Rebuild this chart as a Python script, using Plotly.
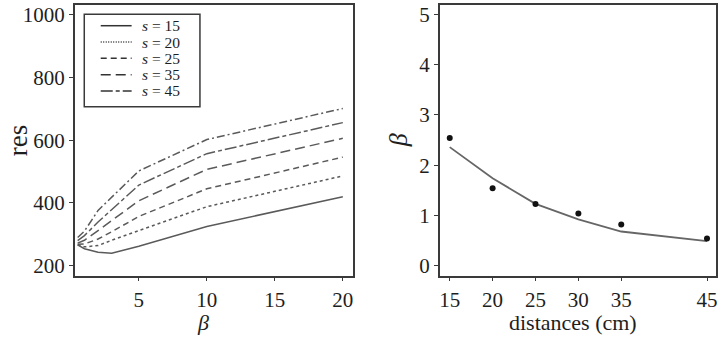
import plotly.graph_objects as go

# Left panel data
beta = [0.5, 1, 2, 3, 5, 10, 20]
res_s15 = [266, 254, 243, 240, 262, 325, 420]
res_s20 = [266, 260, 264, 281, 312, 388, 486]
res_s25 = [268, 269, 285, 308, 357, 445, 546]
res_s35 = [272, 281, 312, 343, 407, 507, 606]
res_s45 = [280, 296, 339, 378, 457, 557, 656]
res_extra = [290, 310, 376, 418, 502, 602, 701]

# Right panel data
distances = [15, 20, 25, 30, 35, 45]
beta_measured = [2.54, 1.54, 1.23, 1.04, 0.82, 0.54]
beta_fit = [2.36, 1.74, 1.23, 0.92, 0.68, 0.49]

x_ticks_left = [5, 10, 15, 20]
y_ticks_left = [200, 400, 600, 800, 1000]
x_ticks_right = [15, 20, 25, 30, 35, 45]
y_ticks_right = [0, 1, 2, 3, 4, 5]

legend_labels = ["<i>s</i> = 15", "<i>s</i> = 20", "<i>s</i> = 25", "<i>s</i> = 35", "<i>s</i> = 45"]

W, H = 720, 337
FONT = "Liberation Serif, Times New Roman, serif"
LC = "#5a5a5a"
AX = "#3a3a3a"
TXT = "#1e1e1e"

dashes = ["solid", "1px,1.5px", "6px,4px", "10px,5px", "12px,3px,4px,3px"]
extra_dash = "8px,3px,2px,3px"

fig = go.Figure()
for ys, dash in zip([res_s15, res_s20, res_s25, res_s35, res_s45], dashes):
    d = "3px,3px" if dash == "1px,1.5px" else dash
    fig.add_trace(go.Scatter(x=beta, y=ys, mode="lines", showlegend=False,
                             line=dict(color=LC, width=1.5, dash=d),
                             xaxis="x", yaxis="y"))
fig.add_trace(go.Scatter(x=beta, y=res_extra, mode="lines", showlegend=False,
                         line=dict(color=LC, width=1.5, dash=extra_dash),
                         xaxis="x", yaxis="y"))

fig.add_trace(go.Scatter(x=distances, y=beta_fit, mode="lines", showlegend=False,
                         line=dict(color="#666666", width=1.8),
                         xaxis="x2", yaxis="y2"))
fig.add_trace(go.Scatter(x=distances, y=beta_measured, mode="markers", showlegend=False,
                         marker=dict(color="#111111", size=6),
                         xaxis="x2", yaxis="y2"))

axcommon = dict(showgrid=False, zeroline=False, showline=True, mirror=True,
                linecolor=AX, linewidth=1.5, ticks="outside", ticklen=4,
                tickcolor=AX, tickwidth=1.2,
                tickfont=dict(family=FONT, size=21, color=TXT))

def px(x):
    return x / W

def py(y):
    return 1 - y / H

shapes = []
annotations = []
# manual legend box
shapes.append(dict(type="rect", xref="paper", yref="paper",
                   x0=px(83.5), x1=px(199.5), y0=py(106), y1=py(12.5),
                   line=dict(color=AX, width=1.5), fillcolor="white", layer="above"))
row_y = [24, 40.5, 57, 73.5, 90]
for lab, dash, ry in zip(legend_labels, dashes, row_y):
    shapes.append(dict(type="line", xref="paper", yref="paper",
                       x0=px(100), x1=px(131), y0=py(ry), y1=py(ry),
                       line=dict(color="#333", width=1.5, dash=dash), layer="above"))
    annotations.append(dict(text=lab, xref="paper", yref="paper",
                            x=px(140), y=py(ry), xanchor="left", yanchor="middle",
                            borderpad=0, showarrow=False,
                            font=dict(family=FONT, size=15.5, color=TXT)))

# axis titles
annotations += [
    dict(text="res", xref="paper", yref="paper", x=px(17), y=py(140),
         xanchor="center", yanchor="middle", textangle=-90, showarrow=False,
         font=dict(family=FONT, size=27, color=TXT)),
    dict(text="<i>β</i>", xref="paper", yref="paper", x=px(203), y=py(324),
         xanchor="center", yanchor="middle", showarrow=False,
         font=dict(family=FONT, size=22, color=TXT)),
    dict(text="distances (cm)", xref="paper", yref="paper", x=px(574), y=py(324),
         xanchor="center", yanchor="middle", showarrow=False,
         font=dict(family=FONT, size=22, color=TXT)),
    dict(text="<i>β</i>", xref="paper", yref="paper", x=px(398), y=py(140),
         xanchor="center", yanchor="middle", textangle=-90, showarrow=False,
         font=dict(family=FONT, size=26, color=TXT)),
]

fig.update_layout(
    width=W, height=H,
    margin=dict(l=0, r=0, t=0, b=0),
    paper_bgcolor="white", plot_bgcolor="white",
    font=dict(family=FONT, color=TXT),
    showlegend=False,
    xaxis=dict(domain=[74/W, 353/W], range=[0.29, 20.75],
               tickvals=x_ticks_left, anchor="y", **axcommon),
    yaxis=dict(domain=[60/H, 334/H], range=[168, 1031],
               tickvals=y_ticks_left, anchor="x", **axcommon),
    xaxis2=dict(domain=[440/W, 717/W], range=[13.84, 46.05],
                tickvals=x_ticks_right, anchor="y2", **axcommon),
    yaxis2=dict(domain=[60/H, 334/H], range=[-0.2, 5.19],
                tickvals=y_ticks_right, anchor="x2", **axcommon),
    shapes=shapes,
    annotations=annotations,
)

fig.write_html("out.html", config={"displayModeBar": False},
               post_script="document.body.style.margin='0px';")
